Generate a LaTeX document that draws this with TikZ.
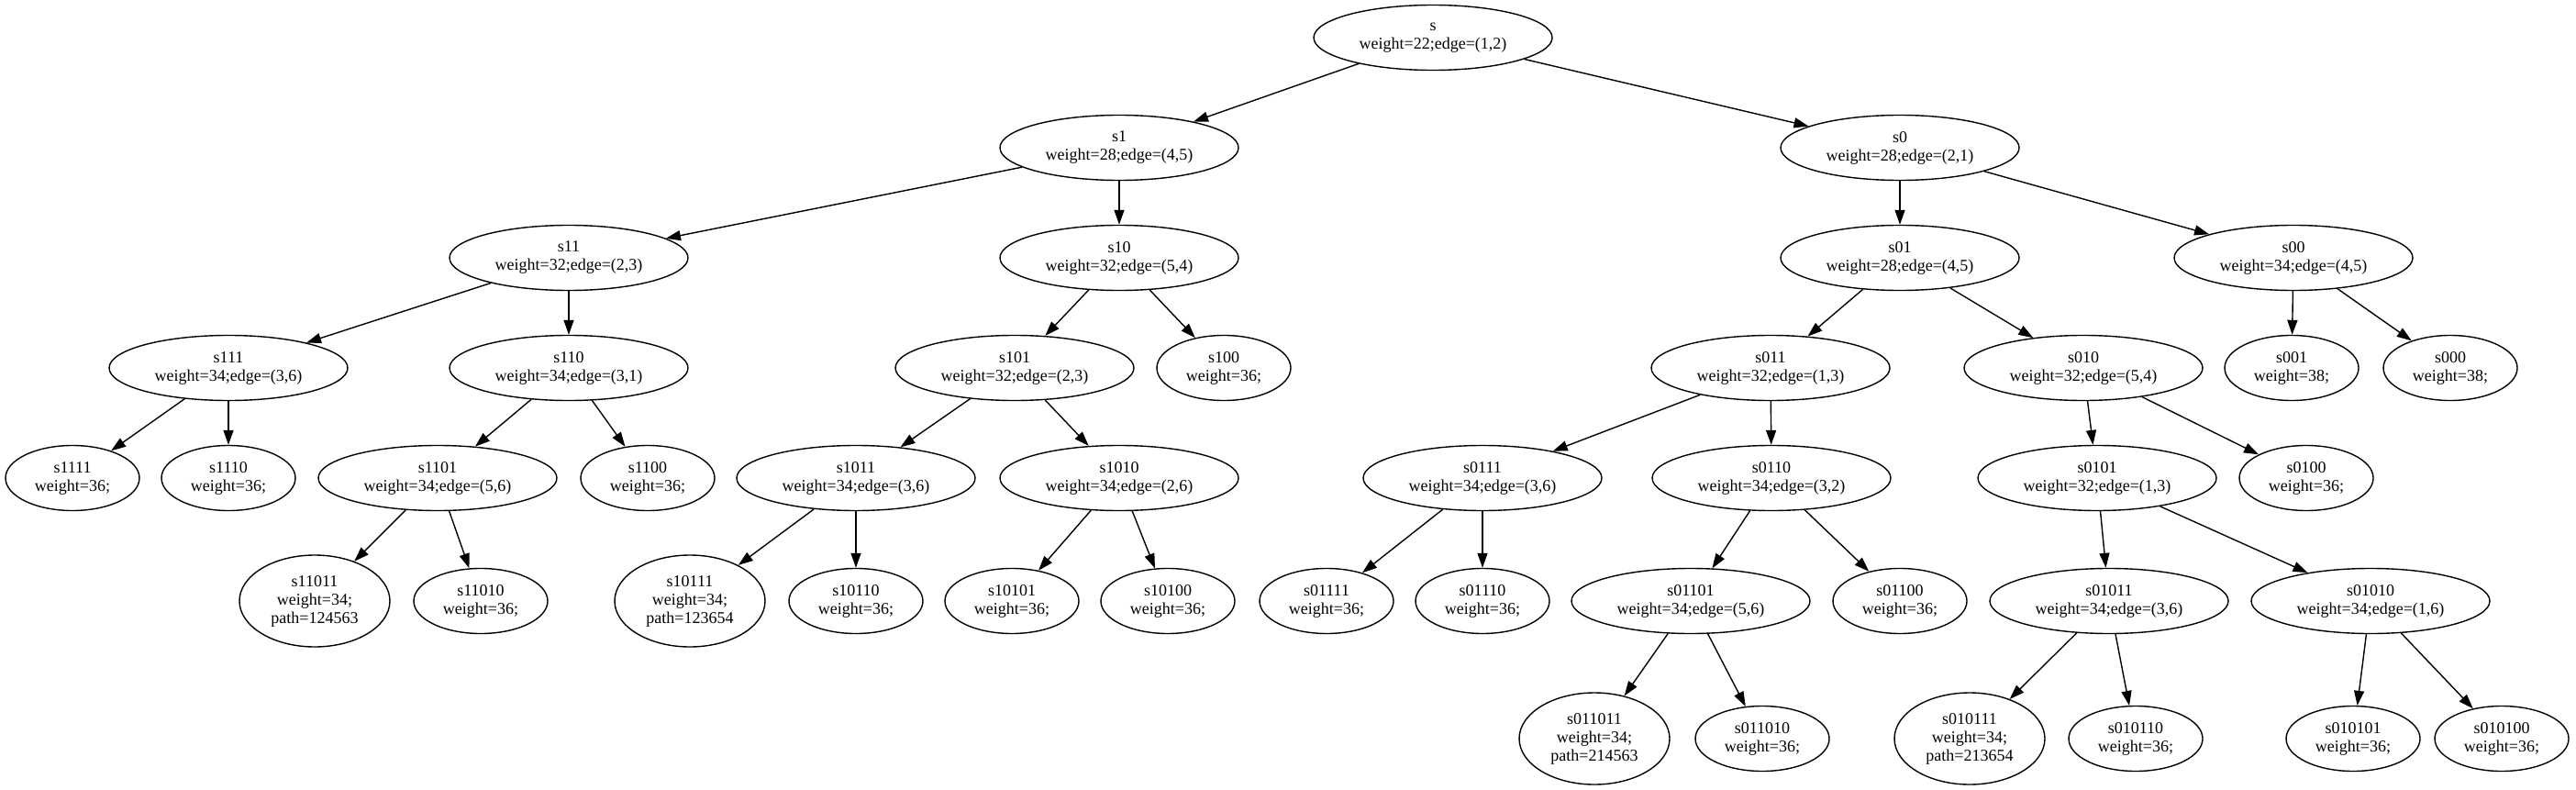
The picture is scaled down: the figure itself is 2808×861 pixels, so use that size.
\documentclass[tikz,border=0pt]{standalone}
\usepackage{fontspec}
\setmainfont{Liberation Serif}
\usepackage{tikz}
\usetikzlibrary{shapes.geometric}
\usetikzlibrary{arrows.meta}
\tikzset{state/.style={ellipse, draw=black, line width=0.7pt, inner sep=0pt, align=center, font=\fontsize{9}{10}\selectfont},
bigstate/.style={state, minimum width=130pt, minimum height=35.5pt},
leafstate/.style={state, minimum width=73pt, minimum height=35.5pt},
pathstate/.style={state, minimum width=82pt, minimum height=50pt},
branch/.style={-{Triangle[length=8pt,width=5.5pt]}, line width=0.7pt}}

\begin{document}
\begin{tikzpicture}[x=0.5pt,y=-0.5pt]
\useasboundingbox (0,0) rectangle (2808,861);
\node[bigstate] (s) at (1562,41) {s\\weight=22;edge=(1,2)};
\node[bigstate] (s1) at (1220,161) {s1\\weight=28;edge=(4,5)};
\node[bigstate] (s0) at (2071,161) {s0\\weight=28;edge=(2,1)};
\node[bigstate] (s11) at (620,281) {s11\\weight=32;edge=(2,3)};
\node[bigstate] (s10) at (1220,281) {s10\\weight=32;edge=(5,4)};
\node[bigstate] (s01) at (2071,281) {s01\\weight=28;edge=(4,5)};
\node[bigstate] (s00) at (2500,281) {s00\\weight=34;edge=(4,5)};
\node[bigstate] (s111) at (249,401) {s111\\weight=34;edge=(3,6)};
\node[bigstate] (s110) at (620,401) {s110\\weight=34;edge=(3,1)};
\node[bigstate] (s101) at (1106,401) {s101\\weight=32;edge=(2,3)};
\node[leafstate] (s100) at (1334,401) {s100\\weight=36;};
\node[bigstate] (s011) at (1930,401) {s011\\weight=32;edge=(1,3)};
\node[bigstate] (s010) at (2271,401) {s010\\weight=32;edge=(5,4)};
\node[leafstate] (s001) at (2498,401) {s001\\weight=38;};
\node[leafstate] (s000) at (2671,401) {s000\\weight=38;};
\node[leafstate] (s1111) at (79,521) {s1111\\weight=36;};
\node[leafstate] (s1110) at (249,521) {s1110\\weight=36;};
\node[bigstate] (s1101) at (477,521) {s1101\\weight=34;edge=(5,6)};
\node[leafstate] (s1100) at (706,521) {s1100\\weight=36;};
\node[bigstate] (s1011) at (933,521) {s1011\\weight=34;edge=(3,6)};
\node[bigstate] (s1010) at (1220,521) {s1010\\weight=34;edge=(2,6)};
\node[bigstate] (s0111) at (1616,521) {s0111\\weight=34;edge=(3,6)};
\node[bigstate] (s0110) at (1931,521) {s0110\\weight=34;edge=(3,2)};
\node[bigstate] (s0101) at (2286,521) {s0101\\weight=32;edge=(1,3)};
\node[leafstate] (s0100) at (2514,521) {s0100\\weight=36;};
\node[pathstate] (s11011) at (343,655) {s11011\\weight=34;\\path=124563};
\node[leafstate] (s11010) at (524,655) {s11010\\weight=36;};
\node[pathstate] (s10111) at (752,655) {s10111\\weight=34;\\path=123654};
\node[leafstate] (s10110) at (933,655) {s10110\\weight=36;};
\node[leafstate] (s10101) at (1103,655) {s10101\\weight=36;};
\node[leafstate] (s10100) at (1273,655) {s10100\\weight=36;};
\node[leafstate] (s01111) at (1446,655) {s01111\\weight=36;};
\node[leafstate] (s01110) at (1616,655) {s01110\\weight=36;};
\node[bigstate] (s01101) at (1843,655) {s01101\\weight=34;edge=(5,6)};
\node[leafstate] (s01100) at (2071,655) {s01100\\weight=36;};
\node[bigstate] (s01011) at (2299,655) {s01011\\weight=34;edge=(3,6)};
\node[bigstate] (s01010) at (2584,655) {s01010\\weight=34;edge=(1,6)};
\node[pathstate] (s011011) at (1738,805) {s011011\\weight=34;\\path=214563};
\node[leafstate] (s011010) at (1921,805) {s011010\\weight=36;};
\node[pathstate] (s010111) at (2147,805) {s010111\\weight=34;\\path=213654};
\node[leafstate] (s010110) at (2328,805) {s010110\\weight=36;};
\node[leafstate] (s010101) at (2565,805) {s010101\\weight=36;};
\node[leafstate] (s010100) at (2727,805) {s010100\\weight=36;};
\draw[branch] (s) -- (s1);
\draw[branch] (s) -- (s0);
\draw[branch] (s1) -- (s11);
\draw[branch] (s1) -- (s10);
\draw[branch] (s11) -- (s111);
\draw[branch] (s11) -- (s110);
\draw[branch] (s111) -- (s1111);
\draw[branch] (s111) -- (s1110);
\draw[branch] (s110) -- (s1101);
\draw[branch] (s110) -- (s1100);
\draw[branch] (s1101) -- (s11011);
\draw[branch] (s1101) -- (s11010);
\draw[branch] (s10) -- (s101);
\draw[branch] (s10) -- (s100);
\draw[branch] (s101) -- (s1011);
\draw[branch] (s101) -- (s1010);
\draw[branch] (s1011) -- (s10111);
\draw[branch] (s1011) -- (s10110);
\draw[branch] (s1010) -- (s10101);
\draw[branch] (s1010) -- (s10100);
\draw[branch] (s0) -- (s01);
\draw[branch] (s0) -- (s00);
\draw[branch] (s01) -- (s011);
\draw[branch] (s01) -- (s010);
\draw[branch] (s00) -- (s001);
\draw[branch] (s00) -- (s000);
\draw[branch] (s011) -- (s0111);
\draw[branch] (s011) -- (s0110);
\draw[branch] (s0111) -- (s01111);
\draw[branch] (s0111) -- (s01110);
\draw[branch] (s0110) -- (s01101);
\draw[branch] (s0110) -- (s01100);
\draw[branch] (s01101) -- (s011011);
\draw[branch] (s01101) -- (s011010);
\draw[branch] (s010) -- (s0101);
\draw[branch] (s010) -- (s0100);
\draw[branch] (s0101) -- (s01011);
\draw[branch] (s0101) -- (s01010);
\draw[branch] (s01011) -- (s010111);
\draw[branch] (s01011) -- (s010110);
\draw[branch] (s01010) -- (s010101);
\draw[branch] (s01010) -- (s010100);
\end{tikzpicture}
\end{document}
